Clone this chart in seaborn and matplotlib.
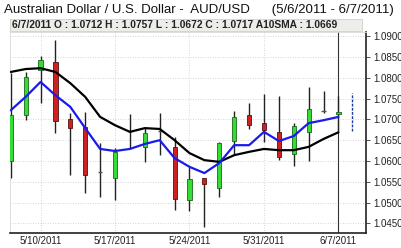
import matplotlib
matplotlib.use("Agg")
import matplotlib.pyplot as plt
import seaborn as sns
import pandas as pd
import numpy as np
from matplotlib.patches import Rectangle

dates = ["5/6/2011", "5/9/2011", "5/10/2011", "5/11/2011", "5/12/2011", "5/13/2011",
         "5/16/2011", "5/17/2011", "5/18/2011", "5/19/2011", "5/20/2011",
         "5/23/2011", "5/24/2011", "5/25/2011", "5/26/2011", "5/27/2011",
         "5/30/2011", "5/31/2011", "6/1/2011", "6/2/2011", "6/3/2011",
         "6/6/2011", "6/7/2011"]
opens  = [1.0600, 1.0710, 1.0818, 1.0838, 1.0701, 1.0682, 1.0574, 1.0559, 1.0670, 1.0634, 1.0672,
          1.0634, 1.0506, 1.0559, 1.0535, 1.0648, 1.0710, 1.0691, 1.0670, 1.0617, 1.0670, 1.0719, 1.0712]
highs  = [1.0812, 1.0814, 1.0852, 1.0890, 1.0715, 1.0718, 1.0643, 1.0631, 1.0713, 1.0679, 1.0715,
          1.0658, 1.0586, 1.0559, 1.0646, 1.0720, 1.0739, 1.0761, 1.0756, 1.0691, 1.0778, 1.0768, 1.0757]
lows   = [1.0560, 1.0698, 1.0739, 1.0667, 1.0566, 1.0523, 1.0514, 1.0506, 1.0628, 1.0598, 1.0614,
          1.0482, 1.0480, 1.0442, 1.0514, 1.0614, 1.0677, 1.0646, 1.0602, 1.0588, 1.0600, 1.0715, 1.0672]
closes = [1.0710, 1.0802, 1.0842, 1.0696, 1.0679, 1.0566, 1.0575, 1.0622, 1.0672, 1.0667, 1.0674,
          1.0509, 1.0557, 1.0545, 1.0643, 1.0706, 1.0686, 1.0674, 1.0610, 1.0684, 1.0725, 1.0721, 1.0717]
sma10  = [1.0814, 1.0821, 1.0823, 1.0814, 1.0787, 1.0754, 1.0706, 1.0686, 1.0670, 1.0679, 1.0677,
          1.0650, 1.0619, 1.0602, 1.0598, 1.0614, 1.0622, 1.0629, 1.0626, 1.0626, 1.0634, 1.0653, 1.0669]
sma5   = [1.0722, 1.0754, 1.0790, 1.0758, 1.0730, 1.0679, 1.0629, 1.0624, 1.0629, 1.0641, 1.0650,
          1.0607, 1.0586, 1.0571, 1.0595, 1.0638, 1.0638, 1.0670, 1.0648, 1.0660, 1.0691, 1.0698, 1.0706]
tick_labels = ["5/10/2011", "5/17/2011", "5/24/2011", "5/31/2011", "6/7/2011"]
ytick_vals = [1.0450, 1.0500, 1.0550, 1.0600, 1.0650, 1.0700, 1.0750, 1.0800, 1.0850, 1.0900]

title = "Australian Dollar / U.S. Dollar -  AUD/USD      (5/6/2011 - 6/7/2011)"
info = "6/7/2011 O : 1.0712 H : 1.0757 L : 1.0672 C : 1.0717 A10SMA : 1.0669"

sns.set_theme(style="white")
plt.rcParams['font.family'] = ['Liberation Sans', 'DejaVu Sans']

df = pd.DataFrame({"date": dates, "open": opens, "high": highs, "low": lows,
                   "close": closes, "sma10": sma10, "sma5": sma5})
df["idx"] = np.arange(len(df))

fig = plt.figure(figsize=(4.02, 2.48), dpi=100)
fig.patch.set_facecolor("white")
ax = fig.add_axes([10/402, 15/248, 356/402, 201/248])
ax.set_facecolor("white")

ax.set_xlim(-0.05, 23.85)
ax.set_ylim(1.0427, 1.0910)

# grid
for yv in ytick_vals:
    ax.axhline(yv, color="#c8c8c8", lw=0.6, ls=(0, (1, 2)), zorder=0)
tick_pos = [dates.index(t) for t in tick_labels]
for xp in tick_pos:
    ax.axvline(xp, color="#c8c8c8", lw=0.6, ls=(0, (1, 2)), zorder=0)

# crosshair at last day
ax.axvline(df["idx"].iloc[-1], color="#333333", lw=0.8, zorder=1)

# candles
w = 0.28
for i, r in df.iterrows():
    ax.vlines(r["idx"], r["low"], r["high"], color="#222222", lw=1.0, zorder=2)
    o, c = r["open"], r["close"]
    if abs(c - o) < 0.0004:
        ax.hlines((o + c) / 2, r["idx"] - w / 2, r["idx"] + w / 2, color="#555555", lw=1.0, zorder=3)
        continue
    if c > o:
        fc, ec = "#33dd33", "#1a661a"
    else:
        fc, ec = "#cc2222", "#551111"
    ax.add_patch(Rectangle((r["idx"] - w / 2, min(o, c)), w, abs(c - o),
                           facecolor=fc, edgecolor=ec, lw=0.6, zorder=3))

sns.lineplot(data=df, x="idx", y="sma10", ax=ax, color="black", lw=1.6, zorder=4)
sns.lineplot(data=df, x="idx", y="sma5", ax=ax, color="#1a1aee", lw=1.6, zorder=5)

# dashed range marker for last day
last = df.iloc[-1]
ax.vlines(last["idx"] + 0.94, last["low"], last["high"] + 0.0006, color="#1a3aa0",
          lw=1.0, ls=(0, (2, 1)), zorder=3)

ax.set_xlabel("")
ax.set_ylabel("")
ax.set_xticks(tick_pos)
ax.set_xticklabels(tick_labels, fontsize=7, color="#222222")
ax.yaxis.tick_right()
ax.set_yticks(ytick_vals)
ax.set_yticklabels([f"{v:.4f}" for v in ytick_vals], fontsize=7, color="#222222")
ax.tick_params(axis="y", length=3, width=0.6, pad=2, color="#333333", right=True, left=False)
ax.tick_params(axis="x", length=0, pad=2)

for s in ["top", "left"]:
    ax.spines[s].set_visible(True)
    ax.spines[s].set_color("#d8d8d8")
    ax.spines[s].set_linewidth(0.6)
for s in ["right", "bottom"]:
    ax.spines[s].set_color("#222222")
    ax.spines[s].set_linewidth(1.2)

# info bar
fig.patches.append(Rectangle((10/402, 217/248), 352/402, 12/248, transform=fig.transFigure,
                             facecolor="#ededea", edgecolor="#d0d0c8", lw=0.6))
fig.text(12/402, 223/248, info, fontsize=7.4, fontweight="bold", color="#222222",
         va="center", ha="left")

fig.text(4/402, 238/248, title, fontsize=9.5, color="#111111", va="center", ha="left")

fig.savefig("out.png", dpi=100)
